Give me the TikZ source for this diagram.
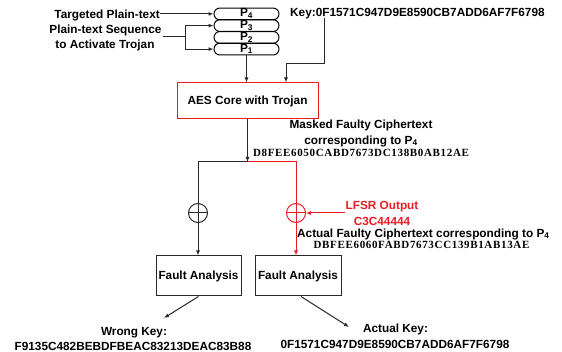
\documentclass[tikz,border=0pt]{standalone}
\usepackage{fontspec}
\setmainfont{Liberation Sans}
\newfontfamily\hexfont[LetterSpace=6]{Liberation Serif}
\usetikzlibrary{arrows.meta,shapes.misc}
\definecolor{tred}{RGB}{235,28,36}
\definecolor{lgray}{RGB}{40,40,40}
\begin{document}
\begin{tikzpicture}[x=1pt,y=-1pt,
 lbl/.style={font=\fontsize{11.8}{14}\selectfont\bfseries, inner sep=0},
 hex/.style={font=\fontsize{11}{13}\selectfont\hexfont\bfseries, inner sep=0},
 line/.style={draw=lgray, line width=1pt},
 arr/.style={line, -{Latex[length=5pt,width=4pt]}},
 rline/.style={draw=tred, line width=1pt},
 rarr/.style={rline, -{Latex[length=5pt,width=4pt]}},
 capsule/.style={rounded rectangle, draw=black, line width=1pt, minimum width=65pt,
   minimum height=11.75pt, inner sep=0, text height=8pt, text depth=2pt,
   font=\fontsize{11.8}{14}\selectfont\bfseries},
 box/.style={draw=#1, line width=1pt, inner sep=0, font=\fontsize{11.8}{14}\selectfont\bfseries},
 box/.default=lgray,
 xor/.style={circle, draw=#1, line width=1pt, minimum size=19pt, inner sep=0,
   path picture={\draw[#1, line width=1pt] (path picture bounding box.north) -- (path picture bounding box.south)
     (path picture bounding box.west) -- (path picture bounding box.east);}}
]
\useasboundingbox (0,0) rectangle (562,352);

% plaintext stack
\node[capsule] (p4) at (246.5,13.9) {P\textsubscript{4}};
\node[capsule] (p3) at (246.5,25.6) {P\textsubscript{3}};
\node[capsule] (p2) at (246.5,37.4) {P\textsubscript{2}};
\node[capsule] (p1) at (246.5,49.1) {P\textsubscript{1}};

\node[lbl, anchor=base east] (tgt) at (160,18.2) {Targeted Plain-text};
\draw[arr] (tgt.east |- p4.west) -- (p4.west);

\node[lbl, anchor=base] (seq1) at (105.5,33.2) {Plain-text Sequence};
\node[lbl, anchor=base] (seq2) at (105,48.2) {to Activate Trojan};
\coordinate (sj) at (185,37);
\draw[line] ([xshift=1pt]sj -| seq1.east) -- (sj);
\draw[line] (sj |- p3.west) -- (sj |- p1.west);
\draw[arr] (sj |- p3.west) -- (p3.west);
\draw[arr] (sj |- p1.west) -- (p1.west);

% key
\node[lbl, anchor=base west] (key) at (290,16.2) {Key:0F1571C947D9E8590CB7ADD6AF7F6798};
\coordinate (kd) at (324,18);

% AES
\node[box=tred, minimum width=141pt, minimum height=36pt] (aes) at (247.5,101) {AES Core with Trojan};
\draw[arr] (p1.south) -- (p1.south |- aes.north);
\draw[arr] (kd) -- (324,64) -| ([xshift=38.5pt]aes.north);

% masked output
\coordinate (fork) at (247.5,162);
\draw[arr] (aes.south) -- (fork);
\node[lbl, anchor=base] (m1) at (361,128.2) {Masked Faulty Ciphertext};
\node[lbl, anchor=base] (m2) at (361,144.2) {corresponding to P\textsubscript{4}};
\node[hex, anchor=base] (m3) at (361,156.6) {D8FEE6050CABD7673DC138B0AB12AE};

% xors
\node[xor=lgray] (xl) at (198,213) {};
\node[xor=tred] (xr) at (296,213) {};
\draw[line] (fork) -| (xl.north);
\draw[rline] (fork) -| (xr.north);

% LFSR
\node[lbl, anchor=base, text=tred] (lf1) at (382,209.2) {LFSR Output};
\node[lbl, anchor=base, text=tred] (lf2) at (382,225.2) {C3C44444};
\draw[rarr] (xr.east -| lf1.west) -- (xr.east);

\node[lbl, anchor=base west] (act) at (297,237.2) {Actual Faulty Ciphertext corresponding to P\textsubscript{4}};
\node[hex, anchor=base] (h2) at (421.5,248.6) {DBFEE6060FABD7673CC139B1AB13AE};

% fault analysis
\node[box, minimum width=85pt, minimum height=40pt] (fal) at (198.5,276) {Fault Analysis};
\node[box, minimum width=86pt, minimum height=40pt] (far) at (298,276) {Fault Analysis};
\draw[arr] (xl.south) -- (xl.south |- fal.north);
\draw[rarr] (xr.south) -- (xr.south |- far.north);

% results
\coordinate (wt) at (164,318);
\coordinate (at) at (349,327);
\draw[arr] (fal.south) -- (wt);
\draw[arr] ([xshift=3pt]far.south) -- (at);
\node[lbl, anchor=base] (wk1) at (134,335.2) {Wrong Key:};
\node[lbl, anchor=base] (wk2) at (133,350.5) {F9135C482BEBDFBEAC83213DEAC83B88};
\node[lbl, anchor=base] (ak1) at (395.5,332.7) {Actual Key:};
\node[lbl, anchor=base] (ak2) at (395,348.6) {0F1571C947D9E8590CB7ADD6AF7F6798};
\end{tikzpicture}
\end{document}
